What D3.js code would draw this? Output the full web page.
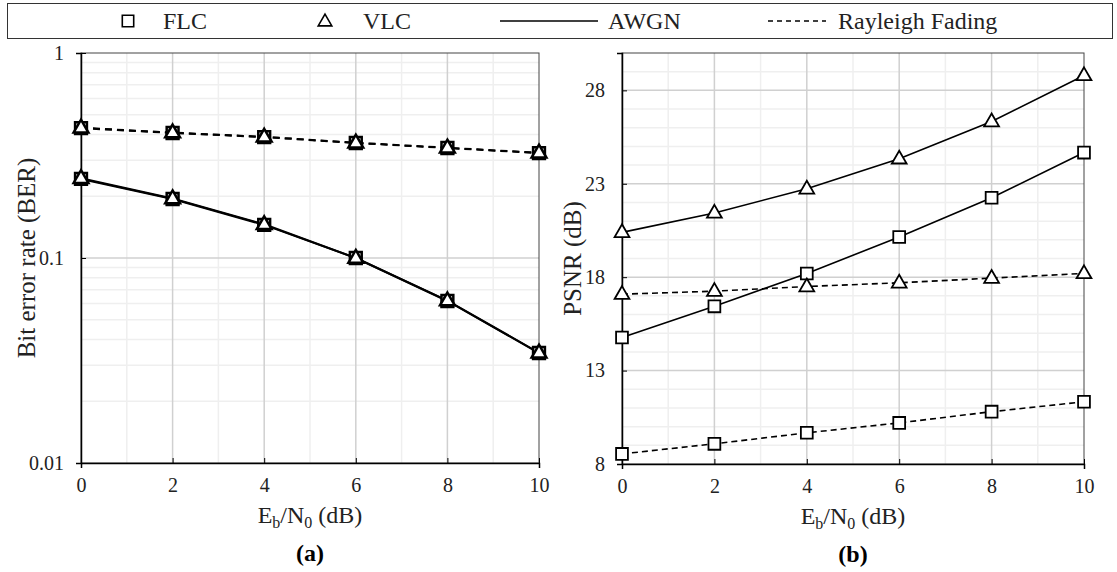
<!DOCTYPE html>
<html>
<head>
<meta charset="utf-8">
<script src="https://cdn.jsdelivr.net/npm/d3@7"></script>
<style>
  html, body { margin: 0; padding: 0; background: #fff; }
  svg { display: block; font-family: "Liberation Serif", "Times New Roman", serif; }
</style>
</head>
<body>
<svg id="chart" width="1117" height="572"></svg>
<script>
const ebn0 = [0, 2, 4, 6, 8, 10]

// (a) bit error rate
const berFlcAwgn = [0.243, 0.194, 0.145, 0.100, 0.0617, 0.0344]
const berVlcAwgn = [0.245, 0.195, 0.146, 0.100, 0.0620, 0.0345]
const berFlcRay = [0.430, 0.407, 0.389, 0.364, 0.344, 0.325]
const berVlcRay = [0.432, 0.409, 0.390, 0.365, 0.345, 0.326]
const berTicks = [0.01, 0.1, 1]

// (b) PSNR
const psnrFlcAwgn = [14.77, 16.44, 18.2, 20.15, 22.25, 24.67]
const psnrVlcAwgn = [20.4, 21.44, 22.73, 24.34, 26.33, 28.8]
const psnrFlcRay = [8.54, 9.08, 9.67, 10.2, 10.8, 11.33]
const psnrVlcRay = [17.09, 17.25, 17.5, 17.7, 17.95, 18.2]
const psnrTicks = [8, 13, 18, 23, 28]

const xTicks = [0, 2, 4, 6, 8, 10]

const svg = d3.select("#chart")
const serif = "Liberation Serif, Times New Roman, serif"
const majorGrid = "#d0d0d0"
const minorGrid = "#efefef"

// Legend
const legend = svg.append("g")
legend.append("rect").attr("x", 7.5).attr("y", 3.5).attr("width", 1105).attr("height", 35)
  .attr("fill", "#fff").attr("stroke", "#333").attr("stroke-width", 1)
const ly = 21
legend.append("path").attr("d", d3.symbol(d3.symbolSquare, 130)())
  .attr("transform", `translate(128,${ly})`).attr("fill", "#fff").attr("stroke", "#000").attr("stroke-width", 1.6)
legend.append("text").attr("x", 163).attr("y", ly).attr("dy", "0.35em").attr("font-size", 24).attr("fill", "#222").text("FLC")
legend.append("path").attr("d", d3.symbol(d3.symbolTriangle, 80)())
  .attr("transform", `translate(325,${ly + 1})`).attr("fill", "#fff").attr("stroke", "#000").attr("stroke-width", 1.6)
legend.append("text").attr("x", 363).attr("y", ly).attr("dy", "0.35em").attr("font-size", 24).attr("fill", "#222").text("VLC")
legend.append("line").attr("x1", 500).attr("x2", 598).attr("y1", ly).attr("y2", ly)
  .attr("stroke", "#000").attr("stroke-width", 1.5)
legend.append("text").attr("x", 608).attr("y", ly).attr("dy", "0.35em").attr("font-size", 24).attr("fill", "#222").text("AWGN")
legend.append("line").attr("x1", 768).attr("x2", 826).attr("y1", ly).attr("y2", ly)
  .attr("stroke", "#000").attr("stroke-width", 1.5).attr("stroke-dasharray", "5,4")
legend.append("text").attr("x", 838).attr("y", ly).attr("dy", "0.35em").attr("font-size", 24).attr("fill", "#222").text("Rayleigh Fading")

function xTitle(g, cx, y) {
  const t = g.append("text").attr("x", cx).attr("y", y).attr("text-anchor", "middle").attr("font-size", 24).attr("fill", "#222")
  t.append("tspan").text("E")
  t.append("tspan").attr("font-size", 16).attr("dy", 5).text("b")
  t.append("tspan").attr("dy", -5).text("/N")
  t.append("tspan").attr("font-size", 16).attr("dy", 5).text("0")
  t.append("tspan").attr("dy", -5).text(" (dB)")
}

function panel(opts) {
  const { left, right, top, bottom, y, series, yTicks, yFmt, minorY, title, label, yTitleX, markerStroke, lineWidth, dash } = opts
  const g = svg.append("g")
  const x = d3.scaleLinear().domain([0, 10]).range([left, right])

  // minor grid
  g.append("g").selectAll("line").data(d3.range(1, 10, 2)).join("line")
    .attr("x1", d => x(d)).attr("x2", d => x(d)).attr("y1", top).attr("y2", bottom)
    .attr("stroke", minorGrid).attr("stroke-width", 1.5)
  g.append("g").selectAll("line").data(minorY).join("line")
    .attr("x1", left).attr("x2", right).attr("y1", d => y(d)).attr("y2", d => y(d))
    .attr("stroke", minorGrid).attr("stroke-width", 1.5)
  // major grid
  g.append("g").selectAll("line").data(xTicks.slice(1, -1)).join("line")
    .attr("x1", d => x(d)).attr("x2", d => x(d)).attr("y1", top).attr("y2", bottom)
    .attr("stroke", majorGrid).attr("stroke-width", 1.5)
  g.append("g").selectAll("line").data(yTicks.filter(d => y(d) > top + 1 && y(d) < bottom - 1)).join("line")
    .attr("x1", left).attr("x2", right).attr("y1", d => y(d)).attr("y2", d => y(d))
    .attr("stroke", majorGrid).attr("stroke-width", 1.5)

  // frame
  g.append("rect").attr("x", left).attr("y", top).attr("width", right - left).attr("height", bottom - top)
    .attr("fill", "none").attr("stroke", "#444").attr("stroke-width", 1)

  // axes
  g.append("g").attr("transform", `translate(0,${bottom})`)
    .attr("font-family", serif)
    .call(d3.axisBottom(x).tickValues(xTicks).tickSize(5).tickPadding(10).tickFormat(d3.format("d")))
    .attr("font-family", serif)
    .call(a => a.select(".domain").attr("stroke", "#000").attr("stroke-width", 1.5))
    .call(a => a.selectAll(".tick line").attr("stroke", "#000").attr("stroke-width", 1).attr("y1", -5).attr("y2", 0))
    .call(a => a.selectAll(".tick text").attr("font-size", 20).attr("fill", "#222"))
  g.append("g").attr("transform", `translate(${left},0)`)
    .call(d3.axisLeft(y).tickValues(yTicks).tickSize(5).tickPadding(12).tickFormat(yFmt))
    .attr("font-family", serif)
    .call(a => a.select(".domain").attr("stroke", "#000").attr("stroke-width", 1.5))
    .call(a => a.selectAll(".tick line").attr("stroke", "#000").attr("stroke-width", 1).attr("x1", 5).attr("x2", 0))
    .call(a => a.selectAll(".tick text").attr("font-size", 20).attr("fill", "#222"))

  // titles
  xTitle(g, (left + right) / 2, bottom + 60)
  g.append("text").attr("transform", `translate(${yTitleX},${(top + bottom) / 2}) rotate(-90)`)
    .attr("text-anchor", "middle").attr("dy", "0.35em").attr("font-size", 25).attr("fill", "#222").text(title)
  g.append("text").attr("x", (left + right) / 2).attr("y", bottom + 98)
    .attr("text-anchor", "middle").attr("font-size", 24).attr("font-weight", "bold").text(label)

  // lines and markers
  const line = d3.line().x((d, i) => x(ebn0[i])).y(d => y(d))
  series.forEach(s => {
    g.append("path").datum(s.values).attr("d", line).attr("fill", "none")
      .attr("stroke", "#000").attr("stroke-width", lineWidth)
      .attr("stroke-dasharray", s.dashed ? dash : null)
  })
  series.forEach(s => {
    const sym = s.marker === "square" ? d3.symbol(d3.symbolSquare, 140) : d3.symbol(d3.symbolTriangle, 95)
    g.append("g").selectAll("path").data(s.values).join("path")
      .attr("d", sym)
      .attr("transform", (d, i) => `translate(${x(ebn0[i])},${y(d) + (s.marker === "square" ? 0 : 0.5)})`)
      .attr("fill", "#fff").attr("stroke", "#000").attr("stroke-width", markerStroke)
  })
}

// (a)
const yBer = d3.scaleLog().domain([0.01, 1]).range([463, 53])
const berMinor = [0.02, 0.03, 0.04, 0.05, 0.06, 0.07, 0.08, 0.09, 0.2, 0.3, 0.4, 0.5, 0.6, 0.7, 0.8, 0.9]
panel({
  left: 81, right: 539, top: 53, bottom: 463, y: yBer,
  yTicks: berTicks, yFmt: d => String(d), minorY: berMinor,
  title: "Bit error rate (BER)", label: "(a)", yTitleX: 26,
  markerStroke: 2.5, lineWidth: 2, dash: "7,5",
  series: [
    { values: berFlcRay, marker: "square", dashed: true },
    { values: berVlcRay, marker: "triangle", dashed: true },
    { values: berFlcAwgn, marker: "square", dashed: false },
    { values: berVlcAwgn, marker: "triangle", dashed: false }
  ]
})

// (b)
const yPsnr = d3.scaleLinear().domain([8, 30]).range([464, 53])
panel({
  left: 622, right: 1084, top: 53, bottom: 464, y: yPsnr,
  yTicks: psnrTicks, yFmt: d3.format("d"), minorY: d3.range(9, 30).filter(d => !psnrTicks.includes(d)),
  title: "PSNR (dB)", label: "(b)", yTitleX: 572,
  markerStroke: 1.8, lineWidth: 1.6, dash: "6,4",
  series: [
    { values: psnrFlcAwgn, marker: "square", dashed: false },
    { values: psnrVlcAwgn, marker: "triangle", dashed: false },
    { values: psnrFlcRay, marker: "square", dashed: true },
    { values: psnrVlcRay, marker: "triangle", dashed: true }
  ]
})
</script>
</body>
</html>
